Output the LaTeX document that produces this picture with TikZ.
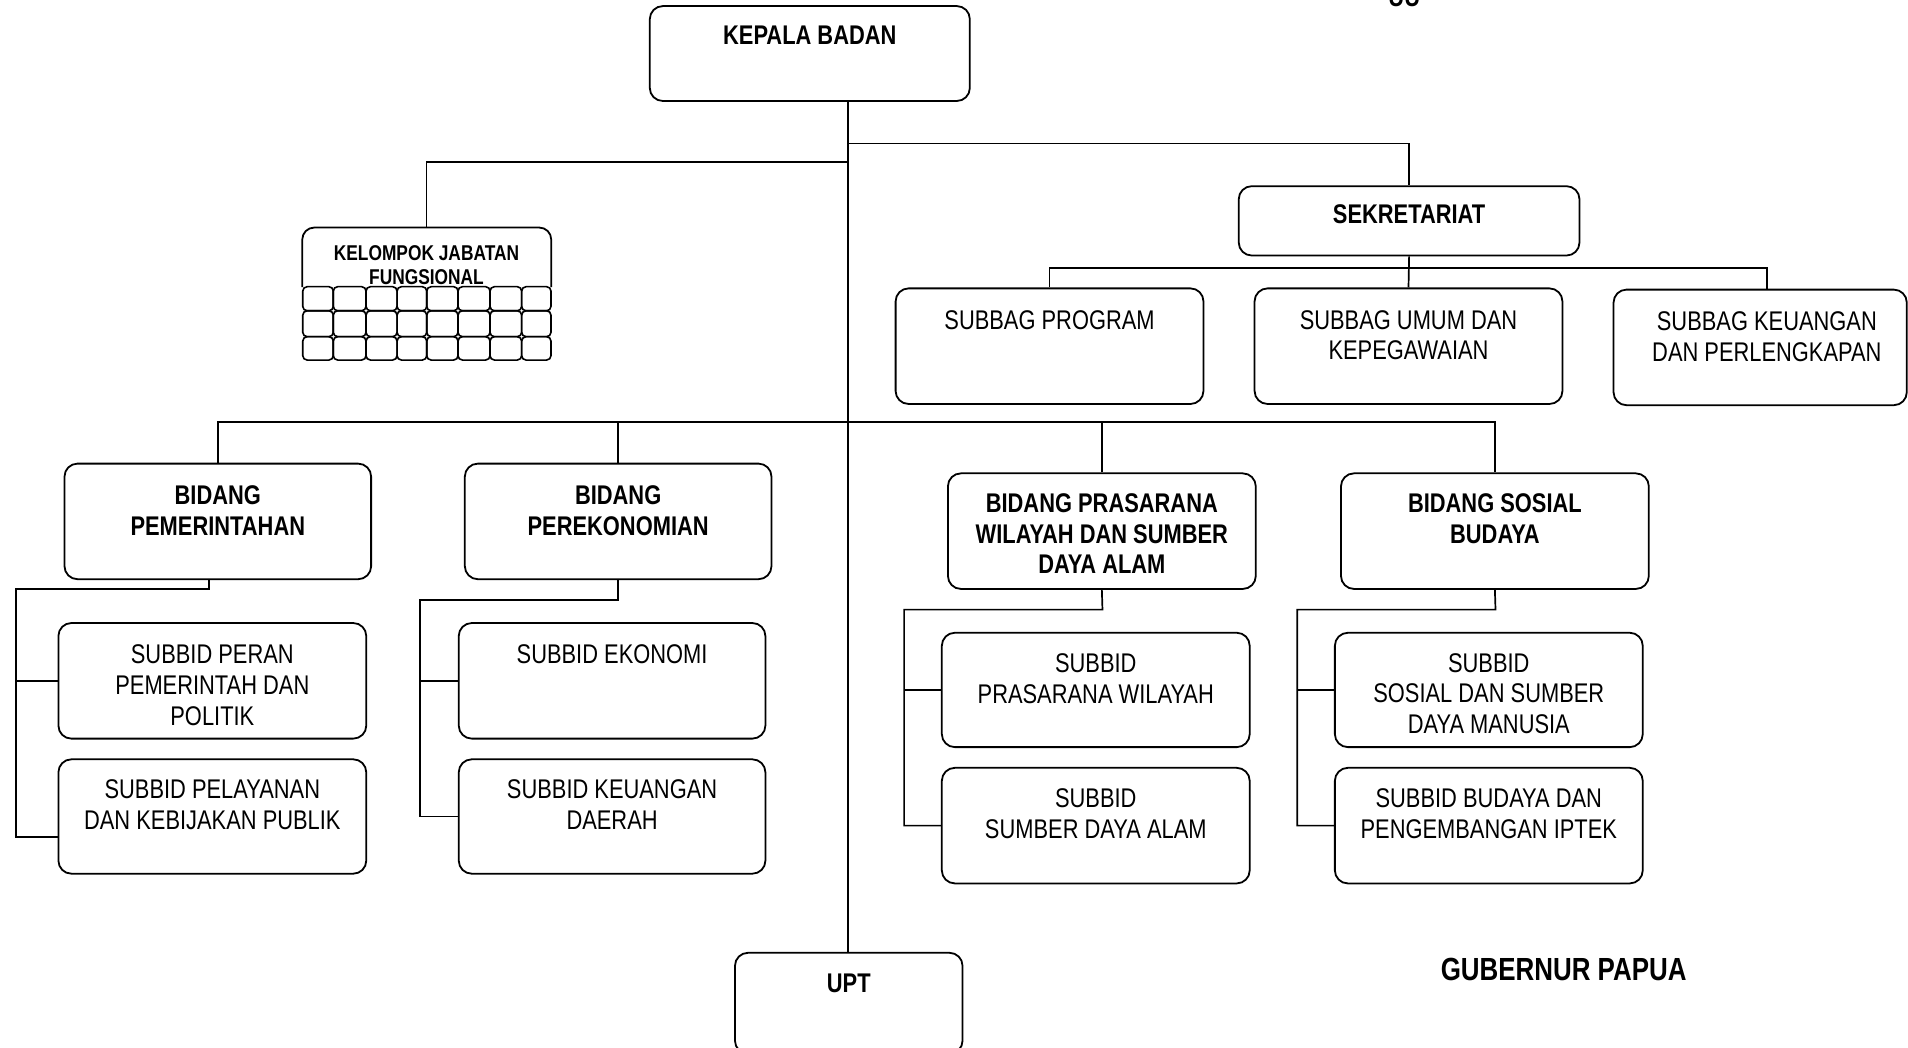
\documentclass[tikz,border=0pt]{standalone}
\usepackage{fontspec}
\setmainfont{Liberation Sans}[FakeStretch=0.81]
\usetikzlibrary{fit}
\newcommand\fszReg{\fontsize{13.5pt}{15.4pt}\selectfont}
\newcommand\fszSmall{\fontsize{10.7pt}{12.2pt}\selectfont}
\newcommand\fszBig{\fontsize{16pt}{18pt}\selectfont}
\begin{document}
\begin{tikzpicture}[x=0.6084pt, y=-0.6084pt,
  box/.style={draw, line width=0.9pt, rounded corners=6.5pt, inner sep=0pt},
  ln/.style={line width=0.85pt},
  cell/.style={line width=0.8pt, rounded corners=2.2pt},
  rt/.style={font=\fszReg, align=center, inner sep=0pt},
  bt/.style={font=\fszReg\bfseries, align=center, inner sep=0pt}]
\useasboundingbox (0,0) rectangle (1568,861);
\fill[white] (0,0) rectangle (1568,861);
\clip (0,0) rectangle (1568,861);

% fragment of text cut off at the top edge
\node[font=\fszReg\bfseries, inner sep=0pt, anchor=base] (frag) at (1154,5.5) {UU};

% boxes
\node[box, fit={(534,5) (797,83)}] (kb) {};
\node[box, fit={(1018,153) (1298,210)}] (sek) {};
\node[fit={(248,187) (453,296)}, inner sep=0pt] (kjf) {};
\node[box, fit={(736,237) (989,332)}] (sp) {};
\node[box, fit={(1031,237) (1284,332)}] (su) {};
\node[box, fit={(1326,238) (1567,333)}] (sk) {};
\node[box, fit={(53,381) (305,476)}] (bp) {};
\node[box, fit={(382,381) (634,476)}] (bpe) {};
\node[box, fit={(779,389) (1032,484)}] (bpr) {};
\node[box, fit={(1102,389) (1355,484)}] (bs) {};
\node[box, fit={(48,512) (301,607)}] (spp) {};
\node[box, fit={(48,624) (301,718)}] (spel) {};
\node[box, fit={(377,512) (629,607)}] (se) {};
\node[box, fit={(377,624) (629,718)}] (skd) {};
\node[box, fit={(774,520) (1027,614)}] (spw) {};
\node[box, fit={(774,631) (1027,726)}] (ssda) {};
\node[box, fit={(1097,520) (1350,614)}] (ssm) {};
\node[box, fit={(1097,631) (1350,726)}] (sbp) {};
\node[box, fit={(604,783) (791,866)}] (upt) {};

% kelompok jabatan fungsional outline and grid
\draw[line width=0.9pt, rounded corners=6pt] (248.4,236) -- (248.4,187) -- (453,187) -- (453,236);
\foreach \ya/\yb in {235.6/255.4, 255.4/276.7, 276.7/295.9}
  \foreach \xa/\xb in {248.8/273.9, 273.9/300.8, 300.8/326.3, 326.3/350.7, 350.7/376.4, 376.4/402.7, 402.7/428.7, 428.7/452.8}
    \draw[cell] (\xa,\ya) rectangle (\xb,\yb);

% texts
\node[bt] (kb-t) at (665.5,29) {KEPALA BADAN};
\node[bt] (sek-t) at (1158,176) {SEKRETARIAT};
\node[font=\fszSmall\bfseries, align=center, inner sep=0pt] (kjf-t) at (350.5,218) {KELOMPOK JABATAN\\FUNGSIONAL};
\node[rt] (sp-t) at (862.5,263) {SUBBAG PROGRAM};
\node[rt] (su-t) at (1157.5,275.5) {SUBBAG UMUM DAN\\KEPEGAWAIAN};
\node[rt] (sk-t) at (1452,277) {SUBBAG KEUANGAN\\DAN PERLENGKAPAN};
\node[bt] (bp-t) at (179,419.5) {BIDANG\\PEMERINTAHAN};
\node[bt] (bpe-t) at (508,419.5) {BIDANG\\PEREKONOMIAN};
\node[bt] (bpr-t) at (905.5,438.5) {BIDANG PRASARANA\\WILAYAH DAN SUMBER\\DAYA ALAM};
\node[bt] (bs-t) at (1228.5,426.5) {BIDANG SOSIAL\\BUDAYA};
\node[rt] (spp-t) at (174.5,563) {SUBBID PERAN\\PEMERINTAH DAN\\POLITIK};
\node[rt] (spel-t) at (174.5,661.5) {SUBBID PELAYANAN\\DAN KEBIJAKAN PUBLIK};
\node[rt] (se-t) at (503,538) {SUBBID EKONOMI};
\node[rt] (skd-t) at (503,661.5) {SUBBID KEUANGAN\\DAERAH};
\node[rt] (spw-t) at (900.5,558) {SUBBID\\PRASARANA WILAYAH};
\node[rt] (ssda-t) at (900.5,669) {SUBBID\\SUMBER DAYA ALAM};
\node[rt] (ssm-t) at (1223.5,570) {SUBBID\\SOSIAL DAN SUMBER\\DAYA MANUSIA};
\node[rt] (sbp-t) at (1223.5,668.5) {SUBBID BUDAYA DAN\\PENGEMBANGAN IPTEK};
\node[bt] (upt-t) at (697.5,808) {UPT};
\node[font=\fszBig\bfseries, inner sep=0pt] (gub) at (1285,797) {GUBERNUR PAPUA};

% connectors
\coordinate (trk) at (697,0);
\coordinate (j1) at (697,118);
\coordinate (j2) at (697,133);
\coordinate (b0) at (697,347);
\draw[ln] (kb.south -| trk) -- (upt.north -| trk);
\draw[ln] (j1) -| (sek.north);
\draw[ln] (j2) -| (kjf.north);
% sekretariat
\coordinate (s0) at (1158,220);
\coordinate (skx) at (1452,0);
\draw[ln] (sek.south) -- (su.north);
\draw[ln] (sp.north) |- (s0) -| (sk.north -| skx);
% bidang
\draw[ln] (bp.north) |- (b0) -| (bs.north);
\draw[ln] (bpe.north) -- (bpe.north |- b0);
\draw[ln] (bpr.north) -- (bpr.north |- b0);
% pemerintahan
\coordinate (p1) at (172,484);
\coordinate (p2) at (13,484);
\coordinate (p3) at (13,688);
\draw[ln] (bp.south -| p1) -- (p1) -- (p2) -- (p3) -- (p3 -| spel.west);
\draw[ln] (p2 |- spp.west) -- (spp.west);
% perekonomian
\coordinate (e1) at (508,493);
\coordinate (e2) at (345,493);
\draw[ln] (bpe.south) -- (e1) -- (e2) |- (skd.west);
\draw[ln] (e2 |- se.west) -- (se.west);
% prasarana
\coordinate (r1) at (906,501);
\coordinate (r2) at (743,501);
\draw[ln] (bpr.south) -- (r1) -- (r2) |- (ssda.west);
\draw[ln] (r2 |- spw.west) -- (spw.west);
% sosial budaya
\coordinate (o1) at (1229,501);
\coordinate (o2) at (1066,501);
\draw[ln] (bs.south) -- (o1) -- (o2) |- (sbp.west);
\draw[ln] (o2 |- ssm.west) -- (ssm.west);
\end{tikzpicture}
\end{document}
